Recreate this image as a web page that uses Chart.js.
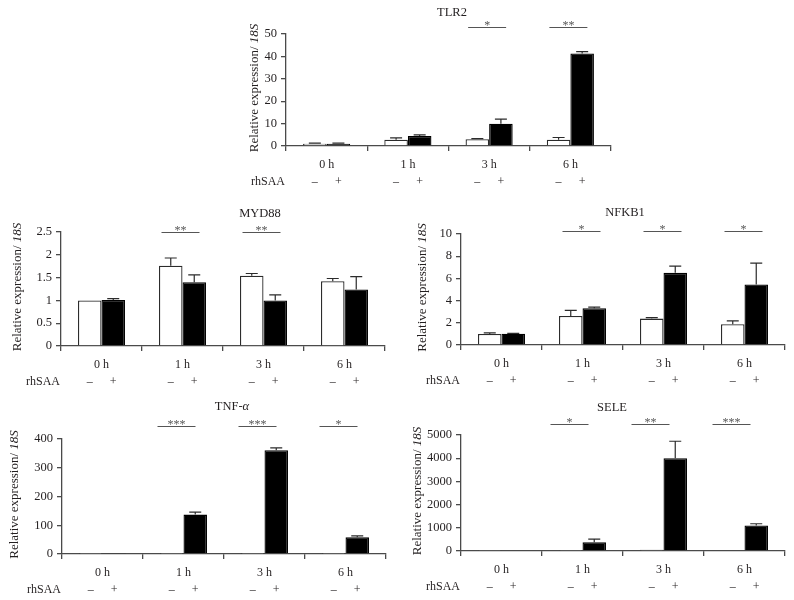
<!DOCTYPE html>
<html>
<head>
<meta charset="utf-8">
<script src="https://cdn.jsdelivr.net/npm/chart.js@4.4.1/dist/chart.umd.min.js"></script>
<style>
  html, body { margin: 0; padding: 0; background: #fff; }
  #wrap { position: relative; width: 794px; height: 600px; }
  #wrap canvas { position: absolute; left: 0; top: 0; }
</style>
</head>
<body>
<div id="wrap">
  <canvas id="tlr2" width="794" height="600"></canvas>
  <canvas id="myd88" width="794" height="600"></canvas>
  <canvas id="nfkb1" width="794" height="600"></canvas>
  <canvas id="tnf" width="794" height="600"></canvas>
  <canvas id="sele" width="794" height="600"></canvas>
</div>
<script>
const timepoints = ['0 h', '1 h', '3 h', '6 h'];

// TLR2
const tlr2Ctrl = [1.0, 2.8, 3.0, 2.8];
const tlr2CtrlSd = [0.3, 0.8, 0.3, 1.0];
const tlr2Saa = [1.0, 4.5, 9.9, 41.3];
const tlr2SaaSd = [0.3, 0.5, 2.1, 0.8];
const tlr2Sig = [null, null, '*', '**'];

// MYD88
const myd88Ctrl = [1.0, 1.76, 1.54, 1.42];
const myd88CtrlSd = [0, 0.17, 0.05, 0.06];
const myd88Saa = [1.01, 1.40, 1.0, 1.24];
const myd88SaaSd = [0.03, 0.16, 0.12, 0.28];
const myd88Sig = [null, '**', '**', null];

// NFKB1
const nfkb1Ctrl = [1.0, 2.62, 2.38, 1.87];
const nfkb1CtrlSd = [0.1, 0.5, 0.09, 0.3];
const nfkb1Saa = [1.02, 3.31, 6.5, 5.45];
const nfkb1SaaSd = [0.03, 0.1, 0.6, 1.93];
const nfkb1Sig = [null, '*', '*', '*'];

// TNF-alpha
const tnfCtrl = [1, 1, 1, 1];
const tnfCtrlSd = [0, 0, 0, 0];
const tnfSaa = [2, 137, 361, 58];
const tnfSaaSd = [0, 9, 8, 5];
const tnfSig = [null, '***', '***', '*'];

// SELE
const seleCtrl = [20, 20, 50, 30];
const seleCtrlSd = [0, 0, 0, 0];
const seleSaa = [30, 372, 4000, 1103];
const seleSaaSd = [0, 144, 730, 72];
const seleSig = [null, '*', '**', '***'];

const FONT = '"Liberation Serif", "DejaVu Serif", serif';
const TEXT = '#231f20';
const AXIS = '#4a4a4a';

const panels = [
  { id: 'tlr2', title: [['TLR2', false]], ctrl: tlr2Ctrl, ctrlSd: tlr2CtrlSd, saa: tlr2Saa, saaSd: tlr2SaaSd,
    sig: tlr2Sig, yMax: 50, yStep: 10,
    area: [286, 34, 611, 146], titleX: 452, titleY: 13, yTitleX: 255, sigY: 27, sigL: -21, sigR: 17 },
  { id: 'myd88', title: [['MYD88', false]], ctrl: myd88Ctrl, ctrlSd: myd88CtrlSd, saa: myd88Saa, saaSd: myd88SaaSd,
    sig: myd88Sig, yMax: 2.5, yStep: 0.5,
    area: [61, 232, 385, 346], titleX: 260, titleY: 214, yTitleX: 18, sigY: 232, sigL: -21, sigR: 17 },
  { id: 'nfkb1', title: [['NFKB1', false]], ctrl: nfkb1Ctrl, ctrlSd: nfkb1CtrlSd, saa: nfkb1Saa, saaSd: nfkb1SaaSd,
    sig: nfkb1Sig, yMax: 10, yStep: 2,
    area: [461, 234, 785, 345], titleX: 625, titleY: 213, yTitleX: 423, sigY: 231, sigL: -20, sigR: 18 },
  { id: 'tnf', title: [['TNF-', false], ['\u03b1', true]], ctrl: tnfCtrl, ctrlSd: tnfCtrlSd, saa: tnfSaa, saaSd: tnfSaaSd,
    sig: tnfSig, yMax: 400, yStep: 100,
    area: [62, 439, 386, 554], titleX: 232, titleY: 407, yTitleX: 15, sigY: 426, sigL: -26, sigR: 12 },
  { id: 'sele', title: [['SELE', false]], ctrl: seleCtrl, ctrlSd: seleCtrlSd, saa: seleSaa, saaSd: seleSaaSd,
    sig: seleSig, yMax: 5000, yStep: 1000,
    area: [461, 435, 785, 551], titleX: 612, titleY: 408, yTitleX: 418, sigY: 424, sigL: -32, sigR: 6 }
];

function font(size, italic) {
  return (italic ? 'italic ' : '') + size + 'px ' + FONT;
}

// draw text made of normal / italic parts, centred on x
function drawParts(ctx, parts, x, y, size) {
  let total = 0;
  parts.forEach(([t, it]) => { ctx.font = font(size, it); total += ctx.measureText(t).width; });
  let cx = x - total / 2;
  ctx.textAlign = 'left';
  parts.forEach(([t, it]) => {
    ctx.font = font(size, it);
    ctx.fillText(t, cx, y);
    cx += ctx.measureText(t).width;
  });
}

function decorations(p) {
  return {
    id: 'decor_' + p.id,
    afterDatasetsDraw(chart) {
      const ctx = chart.ctx;
      const y = chart.scales.y;
      ctx.save();
      ctx.strokeStyle = '#2b2b2b';
      ctx.lineWidth = 1.2;
      chart.data.datasets.forEach((ds, i) => {
        chart.getDatasetMeta(i).data.forEach((bar, j) => {
          const sd = ds.sd[j];
          if (!sd) return;
          const top = y.getPixelForValue(ds.data[j] + sd);
          ctx.beginPath();
          ctx.moveTo(bar.x, bar.y);
          ctx.lineTo(bar.x, top);
          ctx.moveTo(bar.x - 6, top);
          ctx.lineTo(bar.x + 6, top);
          ctx.stroke();
        });
      });
      ctx.restore();
    },
    afterDraw(chart) {
      const ctx = chart.ctx;
      const x = chart.scales.x;
      const area = chart.chartArea;
      ctx.save();
      ctx.fillStyle = TEXT;
      ctx.textBaseline = 'middle';

      // panel title
      drawParts(ctx, p.title, p.titleX, p.titleY, 12.5);

      // y axis title
      ctx.save();
      ctx.translate(p.yTitleX, (area.top + area.bottom) / 2 - 2);
      ctx.rotate(-Math.PI / 2);
      drawParts(ctx, [['Relative expression/ ', false], ['18S', true]], 0, 0, 13);
      ctx.restore();

      // time labels and rhSAA row
      ctx.font = font(12, false);
      ctx.textAlign = 'center';
      timepoints.forEach((t, i) => {
        ctx.fillText(t, x.getPixelForValue(i), area.bottom + 19);
      });
      ctx.textAlign = 'right';
      ctx.fillText('rhSAA', area.left - 1, area.bottom + 36);
      ctx.textAlign = 'center';
      const m0 = chart.getDatasetMeta(0).data;
      const m1 = chart.getDatasetMeta(1).data;
      m0.forEach(b => ctx.fillText('\u2013', b.x, area.bottom + 36));
      m1.forEach(b => ctx.fillText('+', b.x, area.bottom + 36));

      // significance lines
      ctx.strokeStyle = '#555';
      ctx.fillStyle = '#555';
      ctx.lineWidth = 1;
      ctx.textBaseline = 'alphabetic';
      p.sig.forEach((s, i) => {
        if (!s) return;
        const c = x.getPixelForValue(i);
        ctx.beginPath();
        ctx.moveTo(c + p.sigL, p.sigY + 0.5);
        ctx.lineTo(c + p.sigR, p.sigY + 0.5);
        ctx.stroke();
        ctx.font = font(12, false);
        ctx.fillText(s, c + (p.sigL + p.sigR) / 2, p.sigY + 2);
      });
      ctx.restore();
    }
  };
}

function makeChart(p) {
  const [L, T, R, B] = p.area;
  const yw = 40, xh = 10;
  return new Chart(document.getElementById(p.id), {
    type: 'bar',
    data: {
      labels: timepoints,
      datasets: [
        { label: 'rhSAA \u2013', data: p.ctrl, sd: p.ctrlSd, backgroundColor: '#ffffff', borderColor: '#2b2b2b',
          borderWidth: 1.3, categoryPercentage: 0.58, barPercentage: 1 },
        { label: 'rhSAA +', data: p.saa, sd: p.saaSd, backgroundColor: '#000000', borderColor: '#000000',
          borderWidth: 1.3, categoryPercentage: 0.58, barPercentage: 1 }
      ]
    },
    options: {
      responsive: false,
      animation: false,
      layout: { padding: { left: L - yw, top: T, right: 794 - R, bottom: 600 - B - xh } },
      plugins: { legend: { display: false }, tooltip: { enabled: false } },
      scales: {
        x: {
          grid: { display: true, drawOnChartArea: false, drawTicks: true, tickLength: 5, color: AXIS, lineWidth: 1.3, offset: true },
          border: { color: AXIS, width: 1.3 },
          ticks: { display: false },
          afterFit: s => { s.height = xh; }
        },
        y: {
          min: 0, max: p.yMax,
          ticks: { stepSize: p.yStep, color: TEXT, padding: 4, font: { family: FONT, size: 12.5 }, callback: v => String(v) },
          grid: { drawOnChartArea: false, drawTicks: true, tickLength: 5, color: AXIS, lineWidth: 1.3 },
          border: { color: AXIS, width: 1.3 },
          afterFit: s => { s.width = yw; }
        }
      }
    },
    plugins: [decorations(p)]
  });
}

panels.forEach(makeChart);
</script>
</body>
</html>
